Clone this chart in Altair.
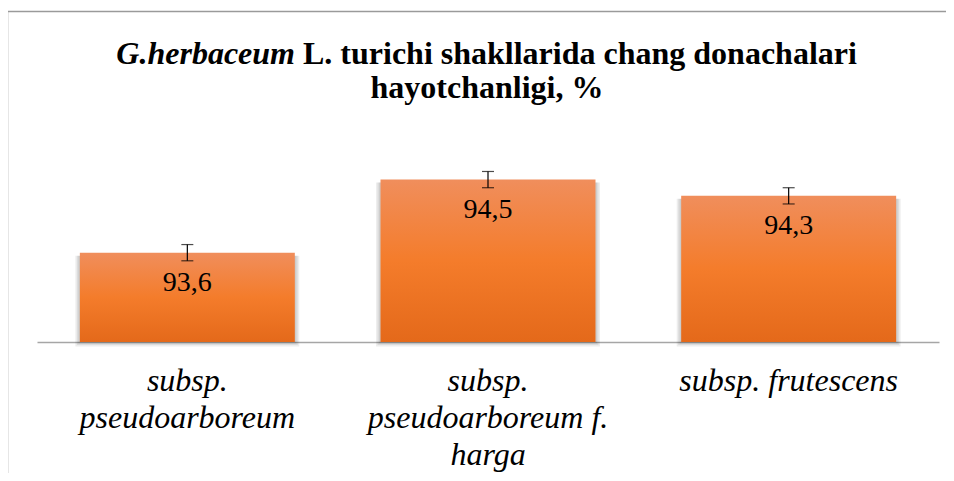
import json
import altair as alt
import pandas as pd

# ---- data ----
categories = ["subsp. pseudoarboreum", "subsp. pseudoarboreum f. harga", "subsp. frutescens"]
label_lines = [["subsp.", "pseudoarboreum"], ["subsp.", "pseudoarboreum f.", "harga"], ["subsp. frutescens"]]
values = [93.6, 94.5, 94.3]
errors = [0.1, 0.1, 0.1]
value_labels = ["93,6", "94,5", "94,3"]
title_italic = ["G.herbaceum"]
title_rest = ["L. turichi shakllarida chang donachalari"]
title_line2 = ["hayotchanligi, %"]
y_domain = [92.5, 95.0]

df = pd.DataFrame({"cat": categories, "value": values, "err": errors, "label": value_labels})
df["lo"] = df["value"] - df["err"]
df["hi"] = df["value"] + df["err"]

W, H = 902, 203
FONT = "Liberation Serif"

expr = json.dumps(label_lines[-1])
for c, lines in reversed(list(zip(categories[:-1], label_lines[:-1]))):
    expr = f"datum.value === {json.dumps(c)} ? {json.dumps(lines)} : ({expr})"

x = alt.X(
    "cat:N",
    sort=categories,
    title=None,
    scale=alt.Scale(paddingInner=0.285, paddingOuter=0.1425),
    axis=alt.Axis(
        labelExpr=expr,
        labelAngle=0,
        labelFont=FONT,
        labelFontStyle="italic",
        labelFontSize=32,
        labelColor="black",
        labelPadding=23,
        labelLineHeight=37,
        labelLimit=0,
        labelBaseline="top",
        ticks=False,
        domainColor="#A6A6A6",
        domainWidth=1.5,
    ),
)
yscale = alt.Scale(domain=y_domain, zero=False)
y = alt.Y("value:Q", scale=yscale, axis=None)

base = alt.Chart(df)

grad = alt.Gradient(
    gradient="linear",
    stops=[
        alt.GradientStop(color="#F08E5C", offset=0),
        alt.GradientStop(color="#F47C2B", offset=0.5),
        alt.GradientStop(color="#E4691A", offset=1),
    ],
    x1=0, x2=0, y1=0, y2=1,
)

BW = 215.0
shadows = [
    base.mark_bar(
        color="#000000", opacity=0.07, width=alt.RelativeBandSize((BW + 2 * k) / BW),
        yOffset=3, y2Offset=k,
    ).encode(x=x, y=y, y2=alt.datum(y_domain[0]))
    for k in (1.5, 3, 4.5)
]

bars = base.mark_bar(color=grad).encode(x=x, y=y, y2=alt.datum(y_domain[0]))

err_rule = base.mark_rule(color="black", strokeWidth=1.2).encode(
    x=x, y=alt.Y("lo:Q", scale=yscale, axis=None), y2="hi:Q"
)
cap_hi = base.mark_tick(color="black", size=12, thickness=1.2).encode(
    x=x, y=alt.Y("hi:Q", scale=yscale, axis=None)
)
cap_lo = base.mark_tick(color="black", size=12, thickness=1.2).encode(
    x=x, y=alt.Y("lo:Q", scale=yscale, axis=None)
)

labels = base.mark_text(font=FONT, fontSize=28, color="black", dy=30, baseline="middle").encode(
    x=x, y=y, text="label:N"
)

t1 = alt.Chart(pd.DataFrame({"t": title_italic})).mark_text(
    font=FONT, fontSize=32, fontWeight="bold", fontStyle="italic", align="right", baseline="alphabetic", color="black"
).encode(x=alt.value(258), y=alt.value(-75), text="t:N")
t2 = alt.Chart(pd.DataFrame({"t": title_rest})).mark_text(
    font=FONT, fontSize=32, fontWeight="bold", align="left", baseline="alphabetic", color="black"
).encode(x=alt.value(266), y=alt.value(-75), text="t:N")
t3 = alt.Chart(pd.DataFrame({"t": title_line2})).mark_text(
    font=FONT, fontSize=32, fontWeight="bold", align="center", baseline="alphabetic", color="black"
).encode(x=alt.value(450), y=alt.value(-41), text="t:N")

border_top = alt.Chart(pd.DataFrame({"a": [0]})).mark_rule(color="#9A9A9A", strokeWidth=1.5).encode(
    x=alt.value(-30), x2=alt.value(W + 7), y=alt.value(-127.5)
)
border_left = alt.Chart(pd.DataFrame({"a": [0]})).mark_rule(color="#9A9A9A", strokeWidth=1.5).encode(
    x=alt.value(-29.5), y=alt.value(-128), y2=alt.value(H + 131)
)

chart = alt.layer(
    border_top, border_left, *shadows, bars, err_rule, cap_hi, cap_lo, labels, t1, t2, t3
).properties(
    width=W,
    height=H,
    padding={"left": 29, "top": 131, "right": 7, "bottom": 131},
    autosize=alt.AutoSizeParams(type="none"),
    background="white",
).configure_view(stroke=None)

chart.save("out.html", embed_options={"renderer": "svg", "actions": False})
